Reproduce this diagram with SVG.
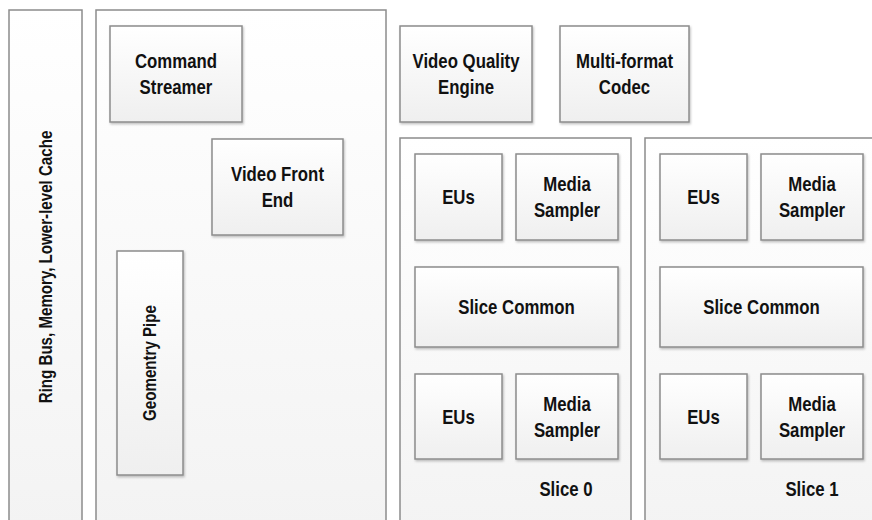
<svg xmlns="http://www.w3.org/2000/svg" width="872" height="520" viewBox="0 0 872 520">
<defs>
<linearGradient id="g" x1="0" y1="0" x2="0" y2="1">
<stop offset="0" stop-color="#ffffff"/>
<stop offset="1" stop-color="#efefef"/>
</linearGradient>
<linearGradient id="gc" x1="0" y1="0" x2="0" y2="1">
<stop offset="0" stop-color="#ffffff"/>
<stop offset="1" stop-color="#f3f3f3"/>
</linearGradient>
<filter id="sh" x="-10%" y="-10%" width="130%" height="130%">
<feDropShadow dx="1" dy="1.5" stdDeviation="1" flood-color="#000" flood-opacity="0.25"/>
</filter>
</defs>
<style>
rect.c,rect.b{stroke:#8c8c8c;stroke-width:1.5;}
.c{fill:url(#gc);}
.b{fill:url(#g);filter:url(#sh);}
text{font-family:"Liberation Sans",Arial,sans-serif;font-size:20px;font-weight:bold;fill:#111;text-anchor:middle;}
text.v{font-size:18px;}
</style>
<rect width="872" height="520" fill="#fff"/>
<g id="ring-bus">
<rect class="c" x="9" y="10" width="73" height="520"/>
<text class="v" transform="translate(52,267) rotate(-90) scale(.84 1)">Ring Bus, Memory, Lower-level Cache</text>
</g>
<g id="front-end">
<rect class="c" x="96" y="10" width="290" height="520"/>
</g>
<g id="command-streamer">
<rect class="b" x="110" y="26" width="132" height="96"/>
<text transform="translate(176 0) scale(.84 1)" y="68.5">Command</text>
<text transform="translate(176 0) scale(.84 1)" y="94.5">Streamer</text>
</g>
<g id="video-front-end">
<rect class="b" x="212" y="139" width="131" height="96"/>
<text transform="translate(277.5 0) scale(.84 1)" y="181.5">Video Front</text>
<text transform="translate(277.5 0) scale(.84 1)" y="207.5">End</text>
</g>
<g id="geometry-pipe">
<rect class="b" x="117" y="251" width="66" height="224"/>
<text class="v" transform="translate(156,363) rotate(-90) scale(.84 1)">Geomentry Pipe</text>
</g>
<g id="video-quality-engine">
<rect class="b" x="400" y="26" width="132" height="96"/>
<text transform="translate(466 0) scale(.84 1)" y="68.5">Video Quality</text>
<text transform="translate(466 0) scale(.84 1)" y="94.5">Engine</text>
</g>
<g id="multi-format-codec">
<rect class="b" x="560" y="26" width="129" height="96"/>
<text transform="translate(624.5 0) scale(.84 1)" y="68.5">Multi-format</text>
<text transform="translate(624.5 0) scale(.84 1)" y="94.5">Codec</text>
</g>
<g id="slice-0">
<rect class="c" x="400" y="138" width="231" height="400"/>
<text transform="translate(566 0) scale(.84 1)" y="496">Slice 0</text>
</g>
<g id="s0-eus-top">
<rect class="b" x="415" y="154" width="87" height="86"/>
<text transform="translate(458.5 0) scale(.84 1)" y="204.5">EUs</text>
</g>
<g id="s0-ms-top">
<rect class="b" x="516" y="154" width="102" height="86"/>
<text transform="translate(567 0) scale(.84 1)" y="191.5">Media</text>
<text transform="translate(567 0) scale(.84 1)" y="217.5">Sampler</text>
</g>
<g id="s0-common">
<rect class="b" x="415" y="267" width="203" height="80"/>
<text transform="translate(516.5 0) scale(.84 1)" y="314.5">Slice Common</text>
</g>
<g id="s0-eus-bottom">
<rect class="b" x="415" y="374" width="87" height="85"/>
<text transform="translate(458.5 0) scale(.84 1)" y="424">EUs</text>
</g>
<g id="s0-ms-bottom">
<rect class="b" x="516" y="374" width="102" height="85"/>
<text transform="translate(567 0) scale(.84 1)" y="411">Media</text>
<text transform="translate(567 0) scale(.84 1)" y="437">Sampler</text>
</g>
<g id="slice-1">
<rect class="c" x="645" y="138" width="240" height="400"/>
<text transform="translate(812 0) scale(.84 1)" y="496">Slice 1</text>
</g>
<g id="s1-eus-top">
<rect class="b" x="660" y="154" width="87" height="86"/>
<text transform="translate(703.5 0) scale(.84 1)" y="204.5">EUs</text>
</g>
<g id="s1-ms-top">
<rect class="b" x="761" y="154" width="102" height="86"/>
<text transform="translate(812 0) scale(.84 1)" y="191.5">Media</text>
<text transform="translate(812 0) scale(.84 1)" y="217.5">Sampler</text>
</g>
<g id="s1-common">
<rect class="b" x="660" y="267" width="203" height="80"/>
<text transform="translate(761.5 0) scale(.84 1)" y="314.5">Slice Common</text>
</g>
<g id="s1-eus-bottom">
<rect class="b" x="660" y="374" width="87" height="85"/>
<text transform="translate(703.5 0) scale(.84 1)" y="424">EUs</text>
</g>
<g id="s1-ms-bottom">
<rect class="b" x="761" y="374" width="102" height="85"/>
<text transform="translate(812 0) scale(.84 1)" y="411">Media</text>
<text transform="translate(812 0) scale(.84 1)" y="437">Sampler</text>
</g>
<g id="connectors"></g>
</svg>
